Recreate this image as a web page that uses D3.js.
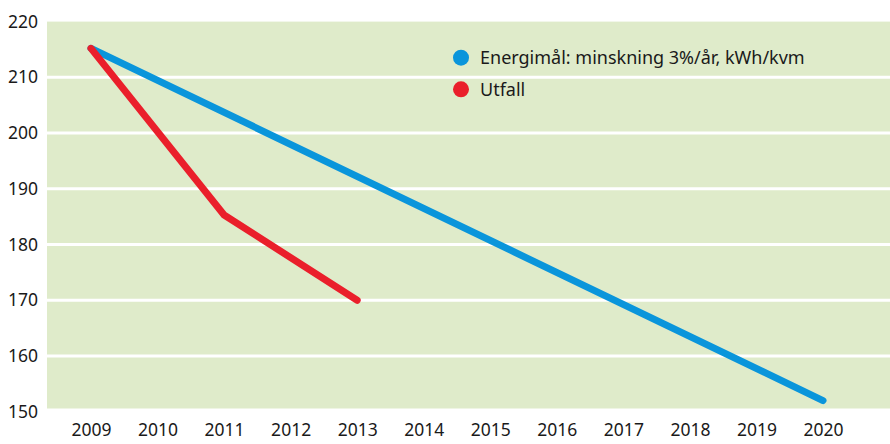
<!DOCTYPE html>
<html><head><meta charset="utf-8">
<script src="https://cdn.jsdelivr.net/npm/d3@7"></script>
<style>body{margin:0;background:#fff}svg{display:block}</style>
</head><body>
<svg id="c" width="890" height="444"></svg>
<script>
const years = ["2009","2010","2011","2012","2013","2014","2015","2016","2017","2018","2019","2020"];
const yTicks = [150,160,170,180,190,200,210,220];
const targetYears = ["2009","2020"];
const targetValues = [215.2, 152.0];
const outcomeYears = ["2009","2011","2013"];
const outcomeValues = [215.2, 185.3, 170.0];
const seriesNames = ["Energimål: minskning 3%/år, kWh/kvm","Utfall"];
const seriesColors = ["#0a95db","#ea1f2b"];

const svg = d3.select("#c");
const L = 47, R = 890, T = 21.6, B = 411.7;
const x = d3.scalePoint().domain(years).range([91, 823]);
const y = d3.scaleLinear().domain([150,220]).range([B, T]);
const font = "'Noto Sans', 'Open Sans', sans-serif";

svg.append("rect").attr("x", L).attr("y", T).attr("width", R-L).attr("height", 408.5-T).attr("fill", "#dfebca");

svg.append("g").selectAll("line").data(yTicks.filter(d => d>150 && d<220)).join("line")
  .attr("x1", L).attr("x2", R).attr("y1", d => y(d)).attr("y2", d => y(d))
  .attr("stroke", "#fff").attr("stroke-width", 3);

const yAxis = svg.append("g").attr("transform", `translate(${L},0)`)
  .call(d3.axisLeft(y).tickValues(yTicks).tickSize(0).tickPadding(9).tickFormat(d3.format("d")));
yAxis.select(".domain").remove();
yAxis.selectAll("text").attr("font-family", font).attr("font-size", 17.5).attr("fill", "#1a1a1a");

const xAxis = svg.append("g").attr("transform", `translate(0,${B})`)
  .call(d3.axisBottom(x).tickSize(0).tickPadding(12));
xAxis.select(".domain").remove();
xAxis.selectAll("text").attr("font-family", font).attr("font-size", 17.5).attr("fill", "#1a1a1a");

const line = d3.line().x(d => x(d[0])).y(d => y(d[1]));
svg.append("path").datum(d3.zip(targetYears, targetValues)).attr("d", line)
  .attr("fill","none").attr("stroke", seriesColors[0]).attr("stroke-width", 7)
  .attr("stroke-linecap","round").attr("stroke-linejoin","round");
svg.append("path").datum(d3.zip(outcomeYears, outcomeValues)).attr("d", line)
  .attr("fill","none").attr("stroke", seriesColors[1]).attr("stroke-width", 7)
  .attr("stroke-linecap","round").attr("stroke-linejoin","round");

const lg = svg.append("g").selectAll("g").data(seriesNames).join("g")
  .attr("transform", (d,i) => `translate(461,${57.7 + i*31.6})`);
lg.append("circle").attr("r", 8).attr("fill", (d,i) => seriesColors[i]);
lg.append("text").attr("x", 19).attr("dy", "0.35em").text(d => d)
  .attr("font-family", font).attr("font-size", 18).attr("fill", "#1a1a1a");
</script>
</body></html>
